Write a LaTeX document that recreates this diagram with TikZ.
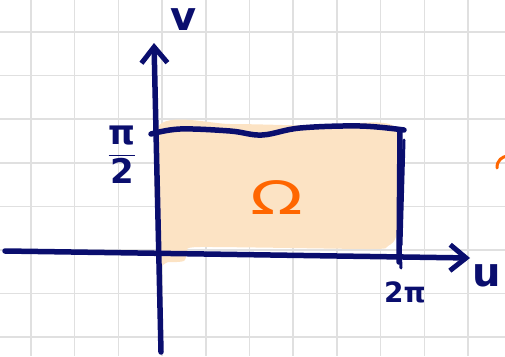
\documentclass[tikz,border=0pt]{standalone}
\usepackage{fontspec}
\usepackage{amsmath}
\setmainfont{DejaVu Sans}
\usetikzlibrary{arrows.meta}
\definecolor{ink}{RGB}{10,14,110}
\definecolor{peach}{RGB}{252,227,196}
\definecolor{marker}{RGB}{255,102,0}
\definecolor{gridline}{RGB}{224,224,224}
\tikzset{
  axis/.style={ink,line width=5.5pt,line cap=round,-{Straight Barb[length=16pt,width=26pt,line width=5pt]}},
  pen/.style={ink,line width=5.5pt,line cap=round,line join=round},
  label/.style={ink,font=\fontsize{26}{26}\selectfont\bfseries,inner sep=0pt},
}
\begin{document}
\begin{tikzpicture}[x=1pt,y=-1pt]
\useasboundingbox (0,0) rectangle (505,356);
% squared paper
\foreach \gx in {31,74.7,118.4,162.1,205.8,249.5,293.2,336.9,380.6,424.3,468,511.7}
  \draw[gridline,line width=1.5pt] (\gx,0) -- (\gx,356);
\foreach \gy in {32,75.6,119.2,162.8,206.4,250,293.6,337.2}
  \draw[gridline,line width=1.5pt] (0,\gy) -- (505,\gy);
% the region
\fill[peach] plot[smooth cycle,tension=0.4] coordinates {(158,127) (230,124) (320,126) (396,128) (397,230) (388,246) (370,249) (200,247) (188,252) (184,261) (168,262) (158,258)};
\node[marker,font=\fontsize{46}{46}\selectfont,xscale=1.5,inner sep=0pt] (omega) at (277,198) {Ω};
% axes
\coordinate (ustart) at (5,251);
\coordinate (uend) at (470,258);
\coordinate (vstart) at (161,352);
\coordinate (vend) at (154,43);
\draw[axis] (ustart) -- (uend);
\draw[axis] (vstart) -- (vend);
\node[label,font=\fontsize{40}{40}\selectfont\bfseries] (u) at (487,276) {u};
\node[label,font=\fontsize{40}{40}\selectfont\bfseries] (v) at (184,20) {v};
% sides of the rectangle
\draw[pen] plot[smooth,tension=0.6] coordinates {(151,134) (180,129) (230,131) (262,135) (300,128) (360,126) (404,130)};
\draw[pen] (400,130) -- (399,262);
\draw[pen,line width=3pt] (404,140) -- (401,245);
\draw[pen,line width=3pt] (400,245) -- (401,268);
\node[label] (halfpi) at (122,155) {\fontsize{34}{34}\selectfont$\dfrac{\mbox{π}}{\mbox{2}}$};
\node[label,font=\fontsize{28}{28}\selectfont\bfseries] (twopi) at (405,292) {2π};
% stray stroke at the edge
\draw[marker,line width=3pt,line cap=round] (497,168) .. controls (497,160) and (502,157) .. (507,156);
\end{tikzpicture}
\end{document}
